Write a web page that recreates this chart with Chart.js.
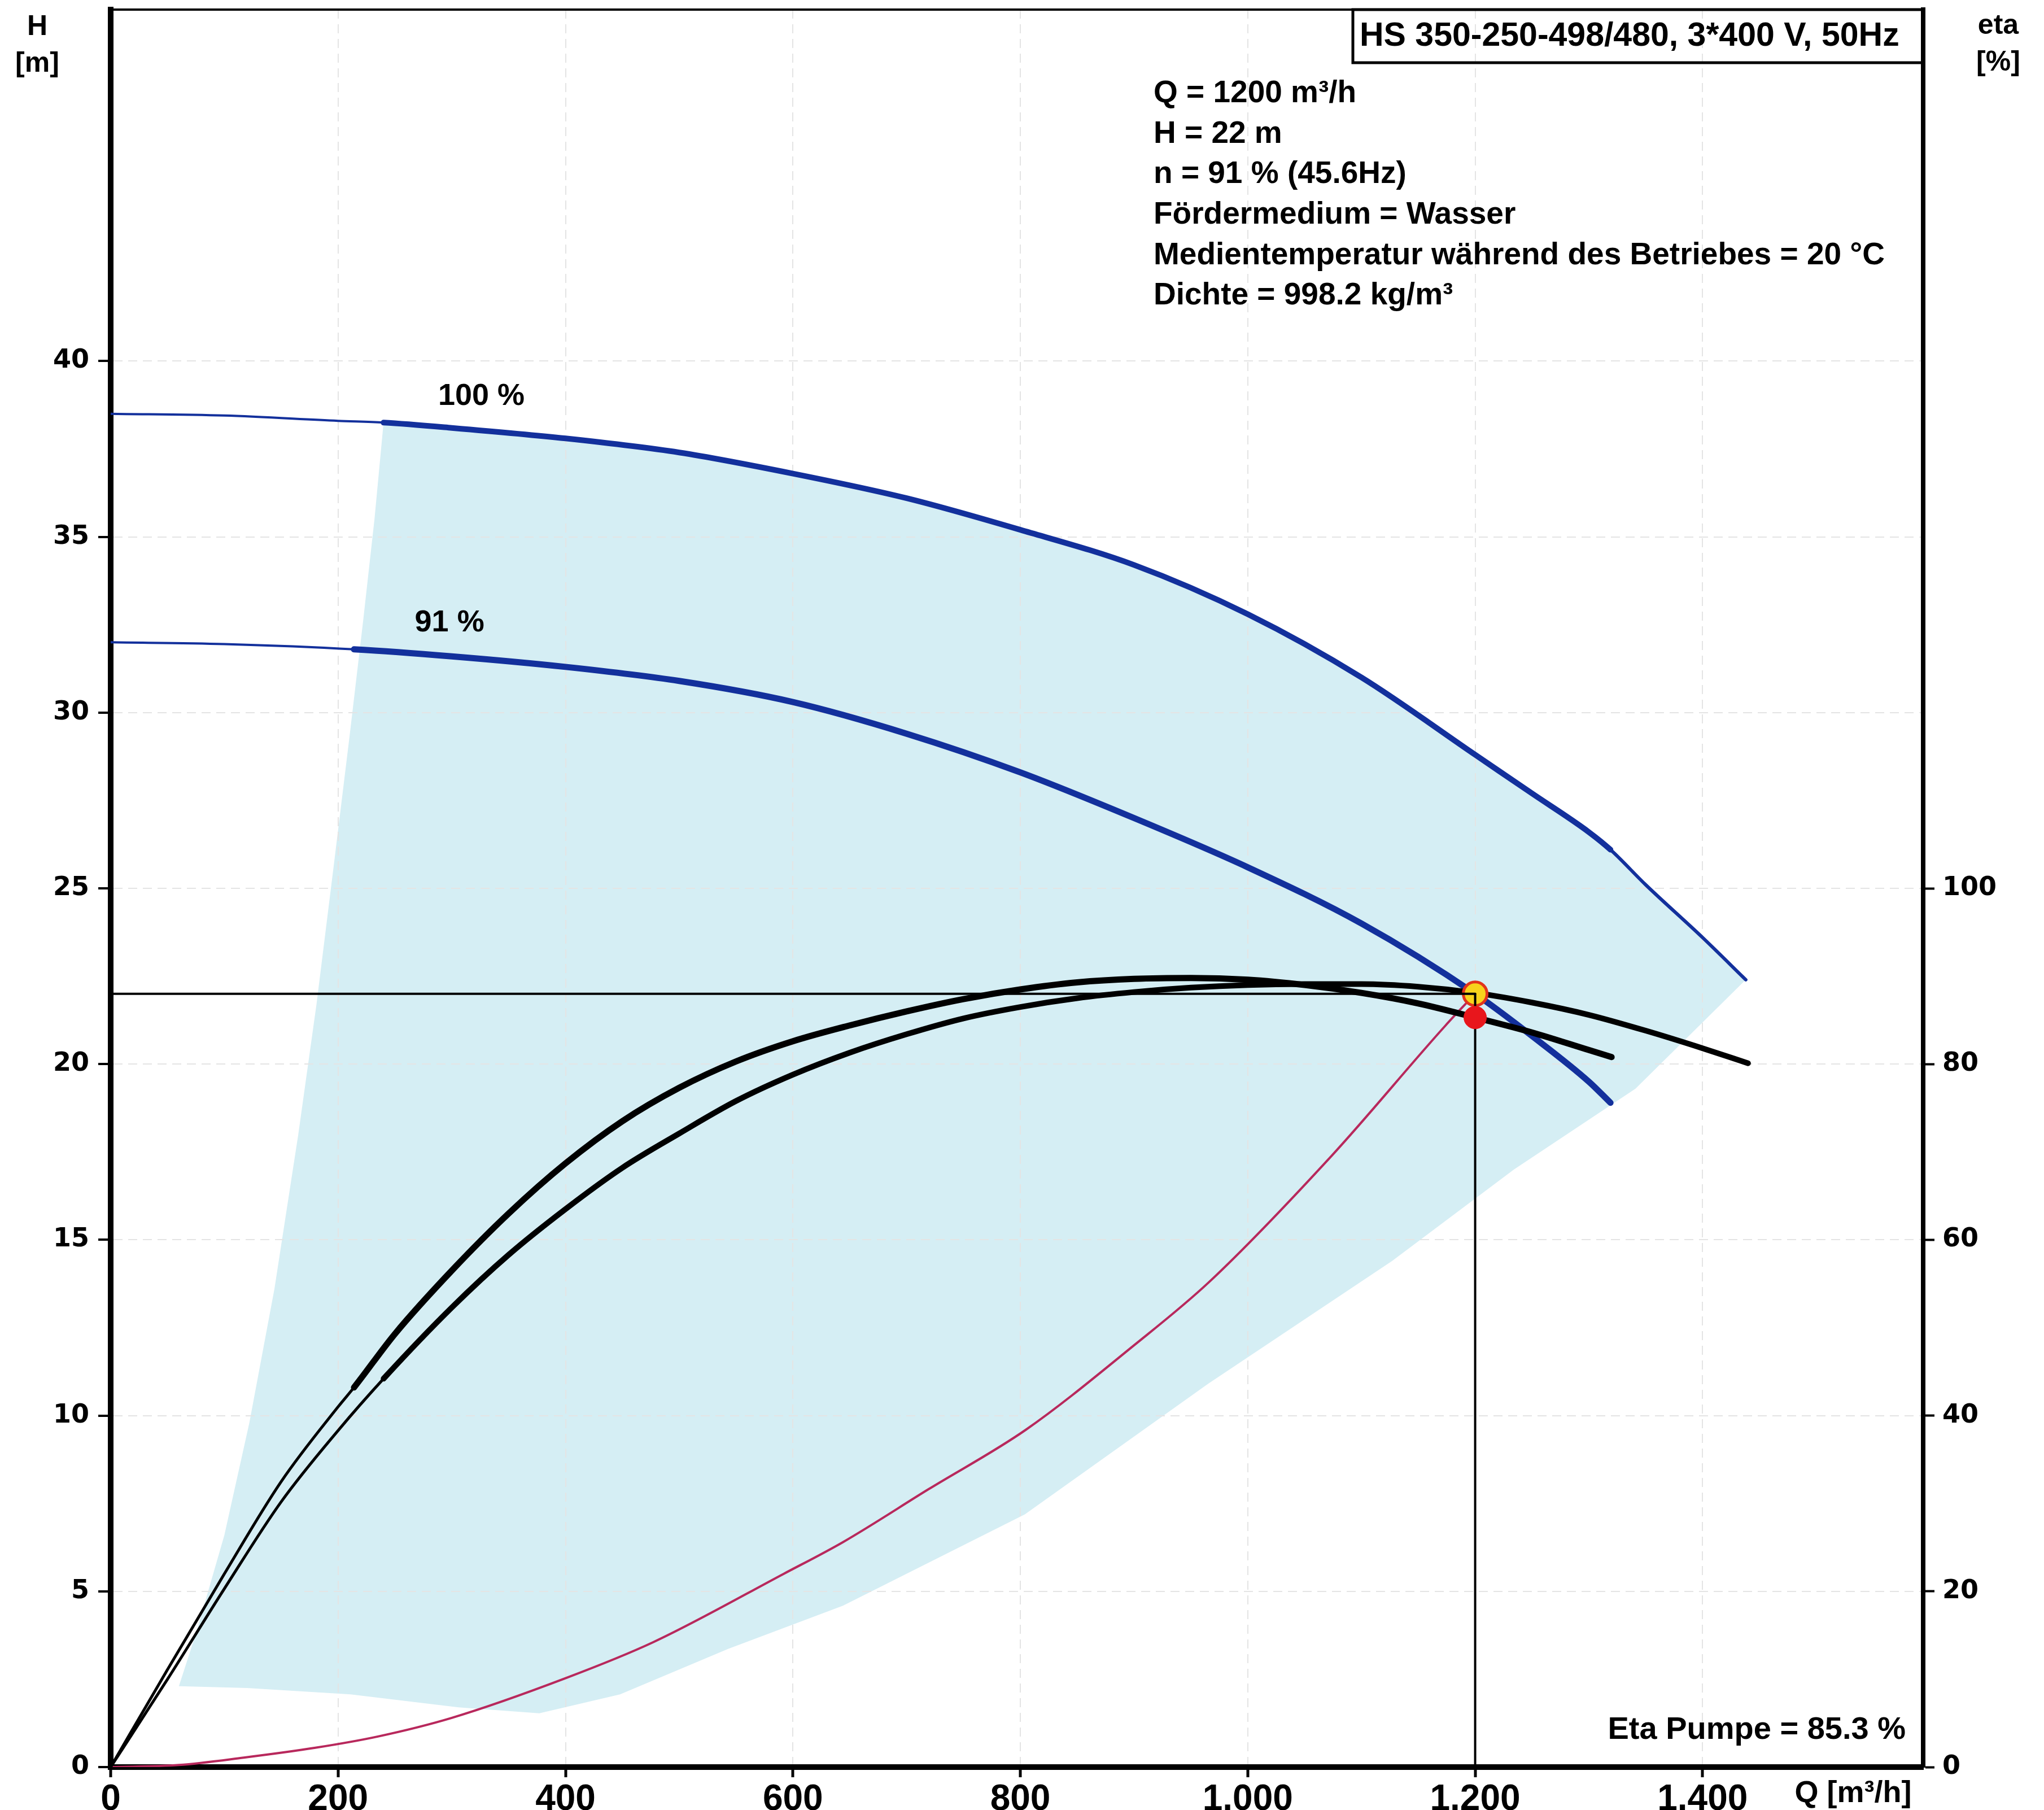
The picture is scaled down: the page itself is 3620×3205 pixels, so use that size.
<!DOCTYPE html>
<html lang="de">
<head>
<meta charset="utf-8">
<title>HS 350-250-498/480 – Kennlinien</title>
<script src="https://cdn.jsdelivr.net/npm/chart.js@4.4.1/dist/chart.umd.min.js"></script>
<style>
  html, body { margin: 0; padding: 0; background: #fff; }
  #box { position: relative; width: 3620px; height: 3205px; }
  canvas { display: block; }
</style>
</head>
<body>
<div id="box"><canvas id="curves" width="3620" height="3205"></canvas></div>
<script>
// ---- axes ----
const qTicks   = [0, 200, 400, 600, 800, 1000, 1200, 1400];      // Q [m³/h]
const hTicks   = [0, 5, 10, 15, 20, 25, 30, 35, 40];             // H [m]
const etaTicks = [0, 20, 40, 60, 80, 100];                       // eta [%]

// ---- head curves (H over Q) ----
const q100 = [0, 100, 200, 240, 300, 400, 500, 600, 700, 800, 900, 1000, 1100, 1200, 1250, 1300, 1319, 1350, 1400, 1438];
const h100 = [38.5, 38.45, 38.3, 38.25, 38.1, 37.8, 37.4, 36.8, 36.1, 35.2, 34.2, 32.8, 31.0, 28.8, 27.7, 26.6, 26.1, 25.1, 23.6, 22.4];

const q91 = [0, 100, 214, 300, 400, 500, 600, 700, 800, 900, 1000, 1100, 1200, 1250, 1300, 1319];
const h91 = [32.0, 31.95, 31.8, 31.6, 31.3, 30.9, 30.3, 29.4, 28.3, 27.0, 25.6, 24.0, 22.0, 20.8, 19.5, 18.9];

// ---- pump efficiency curves (eta over Q) ----
const qEta100 = [0, 50, 100, 150, 200, 240, 300, 350, 400, 450, 500, 550, 600, 650, 700, 750, 800, 850, 900, 950, 1000, 1050, 1100, 1150, 1200, 1250, 1300, 1350, 1400, 1440];
const eta100  = [0, 10.0, 20.3, 30.2, 38.3, 44.2, 52.3, 58.3, 63.5, 68.2, 72.1, 75.8, 78.8, 81.3, 83.4, 85.2, 86.5, 87.5, 88.2, 88.7, 89.0, 89.1, 89.1, 88.8, 88.1, 87.0, 85.6, 83.8, 81.8, 80.1];

const qEta91 = [0, 50, 100, 150, 200, 214, 250, 300, 350, 400, 450, 500, 550, 600, 650, 700, 750, 800, 850, 900, 950, 1000, 1050, 1100, 1150, 1200, 1250, 1300, 1320];
const eta91  = [0, 11.1, 22.0, 32.5, 41.0, 43.2, 49.3, 56.5, 63.0, 68.7, 73.5, 77.3, 80.3, 82.6, 84.4, 86.0, 87.4, 88.5, 89.3, 89.7, 89.8, 89.6, 89.0, 88.1, 86.9, 85.3, 83.6, 81.6, 80.8];

// ---- system curve ----
const qSys = [0, 60, 117, 180, 235, 300, 401, 477, 592, 644, 719, 805, 900, 966, 1074, 1174, 1200];
const hSys = [0, 0.06, 0.27, 0.55, 0.87, 1.4, 2.54, 3.55, 5.5, 6.4, 7.9, 9.6, 12.0, 13.8, 17.4, 21.1, 22.0];

// ---- operating range (shaded) ----
const shadeLeftQ = [60, 75, 100, 122, 144, 165, 181, 196, 210, 222, 232, 240];
const shadeLeftH = [2.3, 3.8, 6.6, 9.8, 13.6, 18.0, 21.7, 25.6, 29.3, 32.6, 35.5, 38.25];
const shadeLowQ  = [60, 120, 211, 306, 377, 448, 543, 644, 804, 965, 1127, 1234, 1341, 1438];
const shadeLowH  = [2.3, 2.25, 2.07, 1.7, 1.53, 2.07, 3.36, 4.59, 7.19, 10.9, 14.4, 17.0, 19.3, 22.4];

// ---- duty point ----
const dutyQ = 1200;      // m³/h
const dutyH = 22;        // m
const dutyEta = 85.3;    // %
const dutySpeed = 91;    // %
const dutyFreq = 45.6;   // Hz
const speedLabels = ['100 %', `${dutySpeed} %`];

const title = 'HS 350-250-498/480, 3*400 V, 50Hz';
const infoLines = [
  `Q = ${dutyQ} m³/h`,
  `H = ${dutyH} m`,
  `n = ${dutySpeed} % (${dutyFreq}Hz)`,
  'Fördermedium = Wasser',
  'Medientemperatur während des Betriebes = 20 °C',
  'Dichte = 998.2 kg/m³'
];

// ---- helpers ----
const P = (xs, ys) => xs.map((x, i) => ({ x, y: ys[i] }));
const thickBetween = (from, to, thick, thin, tail) => c => {
  const a = c.p0.parsed.x, b = c.p1.parsed.x;
  if (a >= from - 0.5 && b <= to + 0.5) return thick;
  return (tail && a >= to - 0.5) ? tail : thin;
};
const fmtQ = v => v >= 1000 ? `${Math.floor(v / 1000)}.${String(v % 1000).padStart(3, '0')}` : String(v);

const lastLeftQ = shadeLeftQ[shadeLeftQ.length - 1];
const shadePoly = [
  ...P(shadeLeftQ, shadeLeftH),
  ...P(q100, h100).filter(p => p.x > lastLeftQ),
  ...P(shadeLowQ, shadeLowH).reverse()
];

const curve = extra => Object.assign({
  type: 'line',
  pointRadius: 0,
  pointHoverRadius: 0,
  fill: false,
  borderCapStyle: 'round',
  borderJoinStyle: 'round',
  cubicInterpolationMode: 'monotone'
}, extra);

const FONT = '"Liberation Sans", Arial, sans-serif';

// Texts: axis captions, header box, duty data, speed labels
const annotate = {
  id: 'annotate',
  afterDraw(chart) {
    const { ctx, chartArea: a, scales: { x, y } } = chart;
    ctx.save();
    ctx.fillStyle = '#000';
    ctx.strokeStyle = '#000';
    ctx.textBaseline = 'middle';

    ctx.textAlign = 'center';
    ctx.font = `bold 50px ${FONT}`;
    ctx.fillText('H', 66, 48);
    ctx.fillText('[m]', 66, 113);
    ctx.fillText('eta', 3539, 46);
    ctx.fillText('[%]', 3539, 111);

    ctx.font = `bold 54px ${FONT}`;
    ctx.fillText('Q [m³/h]', 3282, 3176);

    ctx.font = `bold 54px ${FONT}`;
    ctx.fillText(speedLabels[0], x.getPixelForValue(326), y.getPixelForValue(39.0));
    ctx.fillText(speedLabels[1], x.getPixelForValue(298), y.getPixelForValue(32.55));

    // header box
    ctx.lineWidth = 5;
    ctx.strokeRect(2396, a.top, a.right - 2396, 94);
    ctx.textAlign = 'left';
    ctx.font = `bold 59px ${FONT}`;
    ctx.fillText(title, 2408, a.top + 48);

    ctx.font = `bold 55px ${FONT}`;
    infoLines.forEach((t, i) => ctx.fillText(t, 2043, 166 + i * 71.6));

    ctx.textAlign = 'right';
    ctx.font = `bold 56px ${FONT}`;
    ctx.fillText(`Eta Pumpe = ${dutyEta.toFixed(1)} %`, 3375, 3064);
    ctx.restore();
  }
};

const gridColor = c => (c.tick && c.tick.value === 0) ? 'rgba(0,0,0,0)' : '#e4e4e4';

new Chart(document.getElementById('curves'), {
  type: 'line',
  data: {
    datasets: [
      curve({ label: 'Betriebsbereich', data: shadePoly, fill: 'shape', backgroundColor: '#d5eef4',
              borderColor: 'rgba(0,0,0,0)', borderWidth: 1, cubicInterpolationMode: 'default', tension: 0, order: 10 }),
      curve({ label: 'Anlagenkennlinie', data: P(qSys, hSys), borderColor: '#b8285c', borderWidth: 4, order: 8 }),
      curve({ label: 'H 100 %', data: P(q100, h100), borderColor: '#13309c', borderWidth: 4,
              segment: { borderWidth: thickBetween(240, 1319, 10, 4, 6) }, order: 7 }),
      curve({ label: 'H 91 %', data: P(q91, h91), borderColor: '#13309c', borderWidth: 4,
              segment: { borderWidth: thickBetween(214, 1319, 11, 4) }, order: 7 }),
      curve({ label: 'eta 100 %', yAxisID: 'y2', data: P(qEta100, eta100), borderColor: '#000', borderWidth: 5,
              segment: { borderWidth: thickBetween(240, 1440, 10, 5) }, order: 6 }),
      curve({ label: 'eta 91 %', yAxisID: 'y2', data: P(qEta91, eta91), borderColor: '#000', borderWidth: 5,
              segment: { borderWidth: thickBetween(214, 1320, 11, 5) }, order: 6 }),
      { label: 'Betriebspunkt', type: 'line', data: [{ x: dutyQ, y: dutyH }], showLine: false,
        pointRadius: 21, pointHoverRadius: 21, pointBackgroundColor: '#f7d31c', pointBorderColor: '#e2341c', pointBorderWidth: 5, order: 5 },
      curve({ label: 'H-Linie', data: [{ x: 0, y: dutyH }, { x: dutyQ, y: dutyH }], borderColor: '#000', borderWidth: 4,
              cubicInterpolationMode: 'default', tension: 0, order: 4 }),
      curve({ label: 'Q-Linie', data: [{ x: dutyQ, y: dutyH }, { x: dutyQ, y: 0 }], borderColor: '#000', borderWidth: 4,
              cubicInterpolationMode: 'default', tension: 0, order: 4 }),
      { label: 'Wirkungsgrad', type: 'line', yAxisID: 'y2', data: [{ x: dutyQ, y: dutyEta }], showLine: false,
        pointRadius: 20, pointHoverRadius: 20, pointBackgroundColor: '#e8161c', pointBorderColor: '#e8161c', pointBorderWidth: 1, order: 3 }
    ]
  },
  options: {
    responsive: false,
    animation: false,
    devicePixelRatio: 1,
    events: [],
    layout: { padding: 0, autoPadding: false },
    plugins: {
      legend: { display: false },
      tooltip: { enabled: false },
      filler: { drawTime: 'beforeDraw' }
    },
    scales: {
      x: {
        type: 'linear', position: 'bottom', min: 0, max: 1594,
        afterBuildTicks: s => { s.ticks = qTicks.map(v => ({ value: v })); },
        afterFit: s => { s.height = 76; s.paddingLeft = 0; s.paddingRight = 0; },
        grid: { color: gridColor, lineWidth: 2, tickLength: 18, tickColor: '#000', tickWidth: 5 },
        border: { display: true, color: '#000', width: 10, dash: [16, 10] },
        ticks: { color: '#000', padding: 2, maxRotation: 0, autoSkip: false, callback: v => fmtQ(v),
                 font: { family: "'Liberation Sans Narrow', 'Liberation Sans', Arial, sans-serif", size: 64, weight: 'bold' } }
      },
      x2: {
        type: 'linear', position: 'top', min: 0, max: 1594,
        afterFit: s => { s.height = 17; s.paddingLeft = 0; s.paddingRight = 0; },
        ticks: { display: false },
        grid: { display: false },
        border: { display: true, color: '#000', width: 4 }
      },
      y: {
        type: 'linear', position: 'left', min: 0, max: 50,
        afterBuildTicks: s => { s.ticks = hTicks.map(v => ({ value: v })); },
        afterFit: s => { s.width = 196; s.paddingTop = 0; s.paddingBottom = 0; },
        grid: { color: gridColor, lineWidth: 2, tickLength: 22, tickColor: '#000', tickWidth: 4 },
        border: { display: true, color: '#000', width: 10, dash: [16, 10] },
        ticks: { color: '#000', padding: 16, font: { family: "'DejaVu Sans', sans-serif", size: 46, weight: 'bold' } }
      },
      y2: {
        type: 'linear', position: 'right', min: 0, max: 200,
        afterBuildTicks: s => { s.ticks = etaTicks.map(v => ({ value: v })); },
        afterFit: s => { s.width = 214; s.paddingTop = 0; s.paddingBottom = 0; },
        grid: { drawOnChartArea: false, tickLength: 20, tickColor: '#000', tickWidth: 4 },
        border: { display: true, color: '#000', width: 8 },
        ticks: { color: '#000', padding: 14, font: { family: "'DejaVu Sans', sans-serif", size: 46, weight: 'bold' } }
      }
    }
  },
  plugins: [annotate]
});
</script>
</body>
</html>
